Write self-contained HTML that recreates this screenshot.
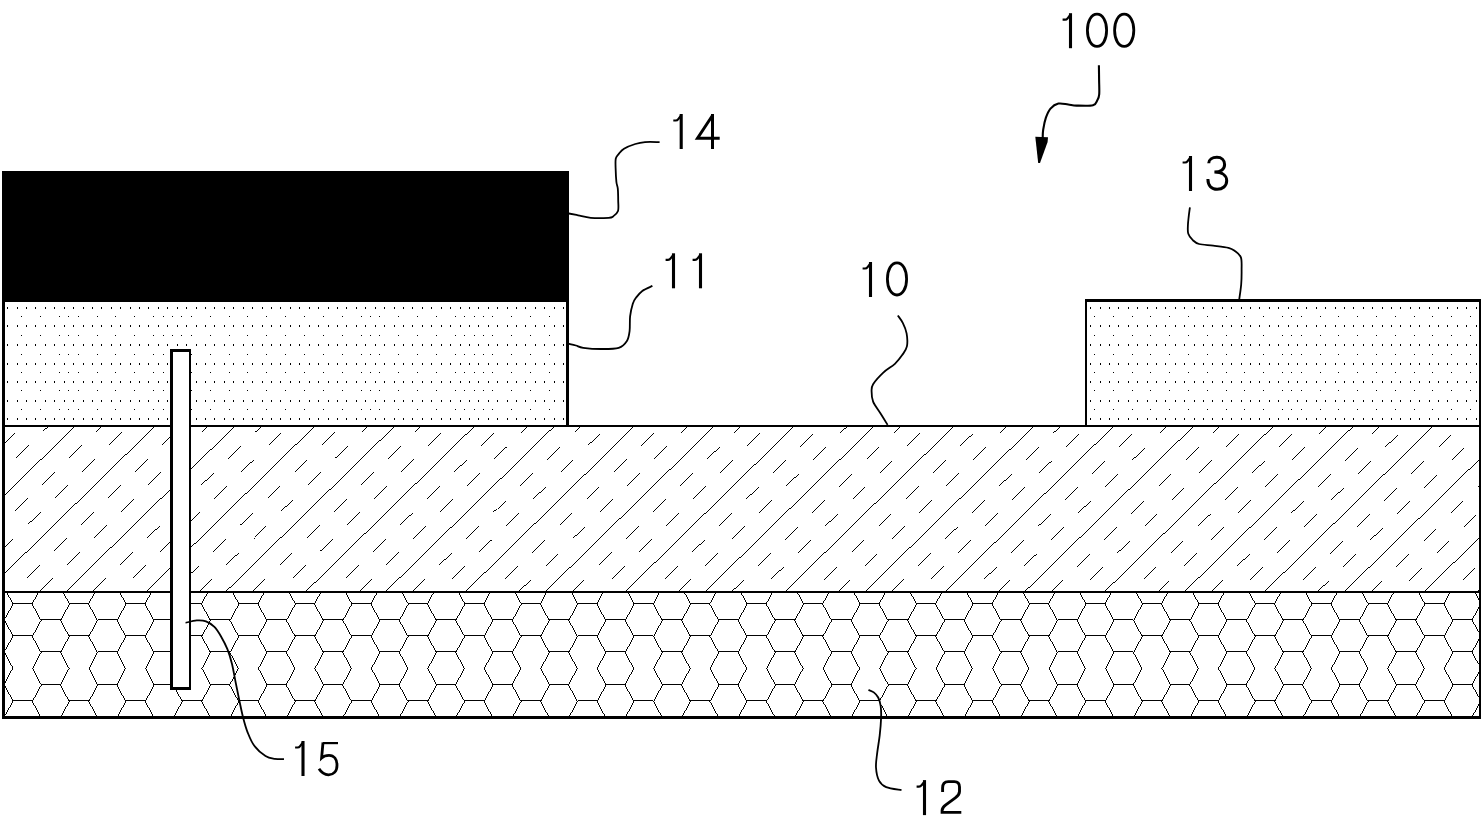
<!DOCTYPE html><html><head><meta charset="utf-8"><style>html,body{margin:0;padding:0;background:#fff;}svg{display:block;}text{font-family:"Liberation Sans",sans-serif;}</style></head><body><svg width="1482" height="824" viewBox="0 0 1482 824"><defs><clipPath id="c11"><rect x="5" y="302" width="561" height="123"/></clipPath><clipPath id="c13"><rect x="1087" y="302" width="392" height="123"/></clipPath><clipPath id="c10"><rect x="5" y="427" width="1474" height="164"/></clipPath><clipPath id="c12"><rect x="5" y="593" width="1474" height="123"/></clipPath></defs><rect width="1482" height="824" fill="#fff"/><path clip-path="url(#c11)" shape-rendering="crispEdges" fill="#000" d="M7 307h1v2h-1zM17 307h1v2h-1zM26 307h1v2h-1zM35 307h1v2h-1zM45 307h1v2h-1zM54 307h1v2h-1zM64 307h1v2h-1zM73 307h1v2h-1zM83 307h1v2h-1zM92 307h1v2h-1zM101 307h1v2h-1zM111 307h1v2h-1zM120 307h1v2h-1zM130 307h1v2h-1zM139 307h1v2h-1zM148 307h1v2h-1zM158 307h1v2h-1zM167 307h1v2h-1zM177 307h1v2h-1zM186 307h1v2h-1zM196 307h1v2h-1zM205 307h1v2h-1zM214 307h1v2h-1zM224 307h1v2h-1zM233 307h1v2h-1zM243 307h1v2h-1zM252 307h1v2h-1zM262 307h1v2h-1zM271 307h1v2h-1zM280 307h1v2h-1zM290 307h1v2h-1zM299 307h1v2h-1zM309 307h1v2h-1zM318 307h1v2h-1zM328 307h1v2h-1zM337 307h1v2h-1zM346 307h1v2h-1zM356 307h1v2h-1zM365 307h1v2h-1zM375 307h1v2h-1zM384 307h1v2h-1zM394 307h1v2h-1zM403 307h1v2h-1zM412 307h1v2h-1zM422 307h1v2h-1zM431 307h1v2h-1zM441 307h1v2h-1zM450 307h1v2h-1zM460 307h1v2h-1zM469 307h1v2h-1zM478 307h1v2h-1zM488 307h1v2h-1zM497 307h1v2h-1zM507 307h1v2h-1zM516 307h1v2h-1zM525 307h1v2h-1zM535 307h1v2h-1zM544 307h1v2h-1zM554 307h1v2h-1zM563 307h1v2h-1zM7 325h1v2h-1zM17 325h1v2h-1zM26 325h1v2h-1zM35 325h1v2h-1zM45 325h1v2h-1zM54 325h1v2h-1zM64 325h1v2h-1zM73 325h1v2h-1zM83 325h1v2h-1zM92 325h1v2h-1zM101 325h1v2h-1zM111 325h1v2h-1zM120 325h1v2h-1zM130 325h1v2h-1zM139 325h1v2h-1zM148 325h1v2h-1zM158 325h1v2h-1zM167 325h1v2h-1zM177 325h1v2h-1zM186 325h1v2h-1zM196 325h1v2h-1zM205 325h1v2h-1zM214 325h1v2h-1zM224 325h1v2h-1zM233 325h1v2h-1zM243 325h1v2h-1zM252 325h1v2h-1zM262 325h1v2h-1zM271 325h1v2h-1zM280 325h1v2h-1zM290 325h1v2h-1zM299 325h1v2h-1zM309 325h1v2h-1zM318 325h1v2h-1zM328 325h1v2h-1zM337 325h1v2h-1zM346 325h1v2h-1zM356 325h1v2h-1zM365 325h1v2h-1zM375 325h1v2h-1zM384 325h1v2h-1zM394 325h1v2h-1zM403 325h1v2h-1zM412 325h1v2h-1zM422 325h1v2h-1zM431 325h1v2h-1zM441 325h1v2h-1zM450 325h1v2h-1zM460 325h1v2h-1zM469 325h1v2h-1zM478 325h1v2h-1zM488 325h1v2h-1zM497 325h1v2h-1zM507 325h1v2h-1zM516 325h1v2h-1zM525 325h1v2h-1zM535 325h1v2h-1zM544 325h1v2h-1zM554 325h1v2h-1zM563 325h1v2h-1zM7 344h1v2h-1zM17 344h1v2h-1zM26 344h1v2h-1zM35 344h1v2h-1zM45 344h1v2h-1zM54 344h1v2h-1zM64 344h1v2h-1zM73 344h1v2h-1zM83 344h1v2h-1zM92 344h1v2h-1zM101 344h1v2h-1zM111 344h1v2h-1zM120 344h1v2h-1zM130 344h1v2h-1zM139 344h1v2h-1zM148 344h1v2h-1zM158 344h1v2h-1zM167 344h1v2h-1zM177 344h1v2h-1zM186 344h1v2h-1zM196 344h1v2h-1zM205 344h1v2h-1zM214 344h1v2h-1zM224 344h1v2h-1zM233 344h1v2h-1zM243 344h1v2h-1zM252 344h1v2h-1zM262 344h1v2h-1zM271 344h1v2h-1zM280 344h1v2h-1zM290 344h1v2h-1zM299 344h1v2h-1zM309 344h1v2h-1zM318 344h1v2h-1zM328 344h1v2h-1zM337 344h1v2h-1zM346 344h1v2h-1zM356 344h1v2h-1zM365 344h1v2h-1zM375 344h1v2h-1zM384 344h1v2h-1zM394 344h1v2h-1zM403 344h1v2h-1zM412 344h1v2h-1zM422 344h1v2h-1zM431 344h1v2h-1zM441 344h1v2h-1zM450 344h1v2h-1zM460 344h1v2h-1zM469 344h1v2h-1zM478 344h1v2h-1zM488 344h1v2h-1zM497 344h1v2h-1zM507 344h1v2h-1zM516 344h1v2h-1zM525 344h1v2h-1zM535 344h1v2h-1zM544 344h1v2h-1zM554 344h1v2h-1zM563 344h1v2h-1zM7 363h1v2h-1zM17 363h1v2h-1zM26 363h1v2h-1zM35 363h1v2h-1zM45 363h1v2h-1zM54 363h1v2h-1zM64 363h1v2h-1zM73 363h1v2h-1zM83 363h1v2h-1zM92 363h1v2h-1zM101 363h1v2h-1zM111 363h1v2h-1zM120 363h1v2h-1zM130 363h1v2h-1zM139 363h1v2h-1zM148 363h1v2h-1zM158 363h1v2h-1zM167 363h1v2h-1zM177 363h1v2h-1zM186 363h1v2h-1zM196 363h1v2h-1zM205 363h1v2h-1zM214 363h1v2h-1zM224 363h1v2h-1zM233 363h1v2h-1zM243 363h1v2h-1zM252 363h1v2h-1zM262 363h1v2h-1zM271 363h1v2h-1zM280 363h1v2h-1zM290 363h1v2h-1zM299 363h1v2h-1zM309 363h1v2h-1zM318 363h1v2h-1zM328 363h1v2h-1zM337 363h1v2h-1zM346 363h1v2h-1zM356 363h1v2h-1zM365 363h1v2h-1zM375 363h1v2h-1zM384 363h1v2h-1zM394 363h1v2h-1zM403 363h1v2h-1zM412 363h1v2h-1zM422 363h1v2h-1zM431 363h1v2h-1zM441 363h1v2h-1zM450 363h1v2h-1zM460 363h1v2h-1zM469 363h1v2h-1zM478 363h1v2h-1zM488 363h1v2h-1zM497 363h1v2h-1zM507 363h1v2h-1zM516 363h1v2h-1zM525 363h1v2h-1zM535 363h1v2h-1zM544 363h1v2h-1zM554 363h1v2h-1zM563 363h1v2h-1zM7 381h1v2h-1zM17 381h1v2h-1zM26 381h1v2h-1zM35 381h1v2h-1zM45 381h1v2h-1zM54 381h1v2h-1zM64 381h1v2h-1zM73 381h1v2h-1zM83 381h1v2h-1zM92 381h1v2h-1zM101 381h1v2h-1zM111 381h1v2h-1zM120 381h1v2h-1zM130 381h1v2h-1zM139 381h1v2h-1zM148 381h1v2h-1zM158 381h1v2h-1zM167 381h1v2h-1zM177 381h1v2h-1zM186 381h1v2h-1zM196 381h1v2h-1zM205 381h1v2h-1zM214 381h1v2h-1zM224 381h1v2h-1zM233 381h1v2h-1zM243 381h1v2h-1zM252 381h1v2h-1zM262 381h1v2h-1zM271 381h1v2h-1zM280 381h1v2h-1zM290 381h1v2h-1zM299 381h1v2h-1zM309 381h1v2h-1zM318 381h1v2h-1zM328 381h1v2h-1zM337 381h1v2h-1zM346 381h1v2h-1zM356 381h1v2h-1zM365 381h1v2h-1zM375 381h1v2h-1zM384 381h1v2h-1zM394 381h1v2h-1zM403 381h1v2h-1zM412 381h1v2h-1zM422 381h1v2h-1zM431 381h1v2h-1zM441 381h1v2h-1zM450 381h1v2h-1zM460 381h1v2h-1zM469 381h1v2h-1zM478 381h1v2h-1zM488 381h1v2h-1zM497 381h1v2h-1zM507 381h1v2h-1zM516 381h1v2h-1zM525 381h1v2h-1zM535 381h1v2h-1zM544 381h1v2h-1zM554 381h1v2h-1zM563 381h1v2h-1zM7 400h1v2h-1zM17 400h1v2h-1zM26 400h1v2h-1zM35 400h1v2h-1zM45 400h1v2h-1zM54 400h1v2h-1zM64 400h1v2h-1zM73 400h1v2h-1zM83 400h1v2h-1zM92 400h1v2h-1zM101 400h1v2h-1zM111 400h1v2h-1zM120 400h1v2h-1zM130 400h1v2h-1zM139 400h1v2h-1zM148 400h1v2h-1zM158 400h1v2h-1zM167 400h1v2h-1zM177 400h1v2h-1zM186 400h1v2h-1zM196 400h1v2h-1zM205 400h1v2h-1zM214 400h1v2h-1zM224 400h1v2h-1zM233 400h1v2h-1zM243 400h1v2h-1zM252 400h1v2h-1zM262 400h1v2h-1zM271 400h1v2h-1zM280 400h1v2h-1zM290 400h1v2h-1zM299 400h1v2h-1zM309 400h1v2h-1zM318 400h1v2h-1zM328 400h1v2h-1zM337 400h1v2h-1zM346 400h1v2h-1zM356 400h1v2h-1zM365 400h1v2h-1zM375 400h1v2h-1zM384 400h1v2h-1zM394 400h1v2h-1zM403 400h1v2h-1zM412 400h1v2h-1zM422 400h1v2h-1zM431 400h1v2h-1zM441 400h1v2h-1zM450 400h1v2h-1zM460 400h1v2h-1zM469 400h1v2h-1zM478 400h1v2h-1zM488 400h1v2h-1zM497 400h1v2h-1zM507 400h1v2h-1zM516 400h1v2h-1zM525 400h1v2h-1zM535 400h1v2h-1zM544 400h1v2h-1zM554 400h1v2h-1zM563 400h1v2h-1zM7 418h1v2h-1zM17 418h1v2h-1zM26 418h1v2h-1zM35 418h1v2h-1zM45 418h1v2h-1zM54 418h1v2h-1zM64 418h1v2h-1zM73 418h1v2h-1zM83 418h1v2h-1zM92 418h1v2h-1zM101 418h1v2h-1zM111 418h1v2h-1zM120 418h1v2h-1zM130 418h1v2h-1zM139 418h1v2h-1zM148 418h1v2h-1zM158 418h1v2h-1zM167 418h1v2h-1zM177 418h1v2h-1zM186 418h1v2h-1zM196 418h1v2h-1zM205 418h1v2h-1zM214 418h1v2h-1zM224 418h1v2h-1zM233 418h1v2h-1zM243 418h1v2h-1zM252 418h1v2h-1zM262 418h1v2h-1zM271 418h1v2h-1zM280 418h1v2h-1zM290 418h1v2h-1zM299 418h1v2h-1zM309 418h1v2h-1zM318 418h1v2h-1zM328 418h1v2h-1zM337 418h1v2h-1zM346 418h1v2h-1zM356 418h1v2h-1zM365 418h1v2h-1zM375 418h1v2h-1zM384 418h1v2h-1zM394 418h1v2h-1zM403 418h1v2h-1zM412 418h1v2h-1zM422 418h1v2h-1zM431 418h1v2h-1zM441 418h1v2h-1zM450 418h1v2h-1zM460 418h1v2h-1zM469 418h1v2h-1zM478 418h1v2h-1zM488 418h1v2h-1zM497 418h1v2h-1zM507 418h1v2h-1zM516 418h1v2h-1zM525 418h1v2h-1zM535 418h1v2h-1zM544 418h1v2h-1zM554 418h1v2h-1zM563 418h1v2h-1zM21 316h1v1h-1zM40 316h1v1h-1zM59 316h1v1h-1zM68 316h1v1h-1zM78 316h1v1h-1zM97 316h1v1h-1zM115 316h1v1h-1zM134 316h1v1h-1zM153 316h1v1h-1zM163 316h1v1h-1zM172 316h1v1h-1zM181 316h1v1h-1zM191 316h1v1h-1zM210 316h1v1h-1zM229 316h1v1h-1zM247 316h1v1h-1zM266 316h1v1h-1zM285 316h1v1h-1zM304 316h1v1h-1zM323 316h1v1h-1zM342 316h1v1h-1zM361 316h1v1h-1zM370 316h1v1h-1zM379 316h1v1h-1zM398 316h1v1h-1zM417 316h1v1h-1zM436 316h1v1h-1zM455 316h1v1h-1zM464 316h1v1h-1zM474 316h1v1h-1zM483 316h1v1h-1zM492 316h1v1h-1zM511 316h1v1h-1zM530 316h1v1h-1zM549 316h1v1h-1zM21 335h1v1h-1zM40 335h1v1h-1zM59 335h1v1h-1zM68 335h1v1h-1zM78 335h1v1h-1zM97 335h1v1h-1zM115 335h1v1h-1zM134 335h1v1h-1zM153 335h1v1h-1zM163 335h1v1h-1zM172 335h1v1h-1zM181 335h1v1h-1zM191 335h1v1h-1zM210 335h1v1h-1zM229 335h1v1h-1zM247 335h1v1h-1zM266 335h1v1h-1zM285 335h1v1h-1zM304 335h1v1h-1zM323 335h1v1h-1zM342 335h1v1h-1zM361 335h1v1h-1zM370 335h1v1h-1zM379 335h1v1h-1zM398 335h1v1h-1zM417 335h1v1h-1zM436 335h1v1h-1zM455 335h1v1h-1zM464 335h1v1h-1zM474 335h1v1h-1zM483 335h1v1h-1zM492 335h1v1h-1zM511 335h1v1h-1zM530 335h1v1h-1zM549 335h1v1h-1zM21 354h1v1h-1zM40 354h1v1h-1zM59 354h1v1h-1zM68 354h1v1h-1zM78 354h1v1h-1zM97 354h1v1h-1zM115 354h1v1h-1zM134 354h1v1h-1zM153 354h1v1h-1zM163 354h1v1h-1zM172 354h1v1h-1zM181 354h1v1h-1zM191 354h1v1h-1zM210 354h1v1h-1zM229 354h1v1h-1zM247 354h1v1h-1zM266 354h1v1h-1zM285 354h1v1h-1zM304 354h1v1h-1zM323 354h1v1h-1zM342 354h1v1h-1zM361 354h1v1h-1zM370 354h1v1h-1zM379 354h1v1h-1zM398 354h1v1h-1zM417 354h1v1h-1zM436 354h1v1h-1zM455 354h1v1h-1zM464 354h1v1h-1zM474 354h1v1h-1zM483 354h1v1h-1zM492 354h1v1h-1zM511 354h1v1h-1zM530 354h1v1h-1zM549 354h1v1h-1zM21 372h1v1h-1zM40 372h1v1h-1zM59 372h1v1h-1zM68 372h1v1h-1zM78 372h1v1h-1zM97 372h1v1h-1zM115 372h1v1h-1zM134 372h1v1h-1zM153 372h1v1h-1zM163 372h1v1h-1zM172 372h1v1h-1zM181 372h1v1h-1zM191 372h1v1h-1zM210 372h1v1h-1zM229 372h1v1h-1zM247 372h1v1h-1zM266 372h1v1h-1zM285 372h1v1h-1zM304 372h1v1h-1zM323 372h1v1h-1zM342 372h1v1h-1zM361 372h1v1h-1zM370 372h1v1h-1zM379 372h1v1h-1zM398 372h1v1h-1zM417 372h1v1h-1zM436 372h1v1h-1zM455 372h1v1h-1zM464 372h1v1h-1zM474 372h1v1h-1zM483 372h1v1h-1zM492 372h1v1h-1zM511 372h1v1h-1zM530 372h1v1h-1zM549 372h1v1h-1zM21 390h1v1h-1zM40 390h1v1h-1zM59 390h1v1h-1zM68 390h1v1h-1zM78 390h1v1h-1zM97 390h1v1h-1zM115 390h1v1h-1zM134 390h1v1h-1zM153 390h1v1h-1zM163 390h1v1h-1zM172 390h1v1h-1zM181 390h1v1h-1zM191 390h1v1h-1zM210 390h1v1h-1zM229 390h1v1h-1zM247 390h1v1h-1zM266 390h1v1h-1zM285 390h1v1h-1zM304 390h1v1h-1zM323 390h1v1h-1zM342 390h1v1h-1zM361 390h1v1h-1zM370 390h1v1h-1zM379 390h1v1h-1zM398 390h1v1h-1zM417 390h1v1h-1zM436 390h1v1h-1zM455 390h1v1h-1zM464 390h1v1h-1zM474 390h1v1h-1zM483 390h1v1h-1zM492 390h1v1h-1zM511 390h1v1h-1zM530 390h1v1h-1zM549 390h1v1h-1zM21 409h1v1h-1zM40 409h1v1h-1zM59 409h1v1h-1zM68 409h1v1h-1zM78 409h1v1h-1zM97 409h1v1h-1zM115 409h1v1h-1zM134 409h1v1h-1zM153 409h1v1h-1zM163 409h1v1h-1zM172 409h1v1h-1zM181 409h1v1h-1zM191 409h1v1h-1zM210 409h1v1h-1zM229 409h1v1h-1zM247 409h1v1h-1zM266 409h1v1h-1zM285 409h1v1h-1zM304 409h1v1h-1zM323 409h1v1h-1zM342 409h1v1h-1zM361 409h1v1h-1zM370 409h1v1h-1zM379 409h1v1h-1zM398 409h1v1h-1zM417 409h1v1h-1zM436 409h1v1h-1zM455 409h1v1h-1zM464 409h1v1h-1zM474 409h1v1h-1zM483 409h1v1h-1zM492 409h1v1h-1zM511 409h1v1h-1zM530 409h1v1h-1zM549 409h1v1h-1z"/><path clip-path="url(#c13)" shape-rendering="crispEdges" fill="#000" d="M1090 307h1v2h-1zM1100 307h1v2h-1zM1109 307h1v2h-1zM1118 307h1v2h-1zM1128 307h1v2h-1zM1137 307h1v2h-1zM1147 307h1v2h-1zM1156 307h1v2h-1zM1165 307h1v2h-1zM1175 307h1v2h-1zM1184 307h1v2h-1zM1194 307h1v2h-1zM1203 307h1v2h-1zM1212 307h1v2h-1zM1222 307h1v2h-1zM1231 307h1v2h-1zM1241 307h1v2h-1zM1250 307h1v2h-1zM1259 307h1v2h-1zM1269 307h1v2h-1zM1278 307h1v2h-1zM1288 307h1v2h-1zM1297 307h1v2h-1zM1306 307h1v2h-1zM1316 307h1v2h-1zM1325 307h1v2h-1zM1335 307h1v2h-1zM1344 307h1v2h-1zM1353 307h1v2h-1zM1363 307h1v2h-1zM1372 307h1v2h-1zM1382 307h1v2h-1zM1391 307h1v2h-1zM1400 307h1v2h-1zM1410 307h1v2h-1zM1419 307h1v2h-1zM1429 307h1v2h-1zM1438 307h1v2h-1zM1447 307h1v2h-1zM1457 307h1v2h-1zM1466 307h1v2h-1zM1476 307h1v2h-1zM1090 325h1v2h-1zM1100 325h1v2h-1zM1109 325h1v2h-1zM1118 325h1v2h-1zM1128 325h1v2h-1zM1137 325h1v2h-1zM1147 325h1v2h-1zM1156 325h1v2h-1zM1165 325h1v2h-1zM1175 325h1v2h-1zM1184 325h1v2h-1zM1194 325h1v2h-1zM1203 325h1v2h-1zM1212 325h1v2h-1zM1222 325h1v2h-1zM1231 325h1v2h-1zM1241 325h1v2h-1zM1250 325h1v2h-1zM1259 325h1v2h-1zM1269 325h1v2h-1zM1278 325h1v2h-1zM1288 325h1v2h-1zM1297 325h1v2h-1zM1306 325h1v2h-1zM1316 325h1v2h-1zM1325 325h1v2h-1zM1335 325h1v2h-1zM1344 325h1v2h-1zM1353 325h1v2h-1zM1363 325h1v2h-1zM1372 325h1v2h-1zM1382 325h1v2h-1zM1391 325h1v2h-1zM1400 325h1v2h-1zM1410 325h1v2h-1zM1419 325h1v2h-1zM1429 325h1v2h-1zM1438 325h1v2h-1zM1447 325h1v2h-1zM1457 325h1v2h-1zM1466 325h1v2h-1zM1476 325h1v2h-1zM1090 344h1v2h-1zM1100 344h1v2h-1zM1109 344h1v2h-1zM1118 344h1v2h-1zM1128 344h1v2h-1zM1137 344h1v2h-1zM1147 344h1v2h-1zM1156 344h1v2h-1zM1165 344h1v2h-1zM1175 344h1v2h-1zM1184 344h1v2h-1zM1194 344h1v2h-1zM1203 344h1v2h-1zM1212 344h1v2h-1zM1222 344h1v2h-1zM1231 344h1v2h-1zM1241 344h1v2h-1zM1250 344h1v2h-1zM1259 344h1v2h-1zM1269 344h1v2h-1zM1278 344h1v2h-1zM1288 344h1v2h-1zM1297 344h1v2h-1zM1306 344h1v2h-1zM1316 344h1v2h-1zM1325 344h1v2h-1zM1335 344h1v2h-1zM1344 344h1v2h-1zM1353 344h1v2h-1zM1363 344h1v2h-1zM1372 344h1v2h-1zM1382 344h1v2h-1zM1391 344h1v2h-1zM1400 344h1v2h-1zM1410 344h1v2h-1zM1419 344h1v2h-1zM1429 344h1v2h-1zM1438 344h1v2h-1zM1447 344h1v2h-1zM1457 344h1v2h-1zM1466 344h1v2h-1zM1476 344h1v2h-1zM1090 363h1v2h-1zM1100 363h1v2h-1zM1109 363h1v2h-1zM1118 363h1v2h-1zM1128 363h1v2h-1zM1137 363h1v2h-1zM1147 363h1v2h-1zM1156 363h1v2h-1zM1165 363h1v2h-1zM1175 363h1v2h-1zM1184 363h1v2h-1zM1194 363h1v2h-1zM1203 363h1v2h-1zM1212 363h1v2h-1zM1222 363h1v2h-1zM1231 363h1v2h-1zM1241 363h1v2h-1zM1250 363h1v2h-1zM1259 363h1v2h-1zM1269 363h1v2h-1zM1278 363h1v2h-1zM1288 363h1v2h-1zM1297 363h1v2h-1zM1306 363h1v2h-1zM1316 363h1v2h-1zM1325 363h1v2h-1zM1335 363h1v2h-1zM1344 363h1v2h-1zM1353 363h1v2h-1zM1363 363h1v2h-1zM1372 363h1v2h-1zM1382 363h1v2h-1zM1391 363h1v2h-1zM1400 363h1v2h-1zM1410 363h1v2h-1zM1419 363h1v2h-1zM1429 363h1v2h-1zM1438 363h1v2h-1zM1447 363h1v2h-1zM1457 363h1v2h-1zM1466 363h1v2h-1zM1476 363h1v2h-1zM1090 381h1v2h-1zM1100 381h1v2h-1zM1109 381h1v2h-1zM1118 381h1v2h-1zM1128 381h1v2h-1zM1137 381h1v2h-1zM1147 381h1v2h-1zM1156 381h1v2h-1zM1165 381h1v2h-1zM1175 381h1v2h-1zM1184 381h1v2h-1zM1194 381h1v2h-1zM1203 381h1v2h-1zM1212 381h1v2h-1zM1222 381h1v2h-1zM1231 381h1v2h-1zM1241 381h1v2h-1zM1250 381h1v2h-1zM1259 381h1v2h-1zM1269 381h1v2h-1zM1278 381h1v2h-1zM1288 381h1v2h-1zM1297 381h1v2h-1zM1306 381h1v2h-1zM1316 381h1v2h-1zM1325 381h1v2h-1zM1335 381h1v2h-1zM1344 381h1v2h-1zM1353 381h1v2h-1zM1363 381h1v2h-1zM1372 381h1v2h-1zM1382 381h1v2h-1zM1391 381h1v2h-1zM1400 381h1v2h-1zM1410 381h1v2h-1zM1419 381h1v2h-1zM1429 381h1v2h-1zM1438 381h1v2h-1zM1447 381h1v2h-1zM1457 381h1v2h-1zM1466 381h1v2h-1zM1476 381h1v2h-1zM1090 400h1v2h-1zM1100 400h1v2h-1zM1109 400h1v2h-1zM1118 400h1v2h-1zM1128 400h1v2h-1zM1137 400h1v2h-1zM1147 400h1v2h-1zM1156 400h1v2h-1zM1165 400h1v2h-1zM1175 400h1v2h-1zM1184 400h1v2h-1zM1194 400h1v2h-1zM1203 400h1v2h-1zM1212 400h1v2h-1zM1222 400h1v2h-1zM1231 400h1v2h-1zM1241 400h1v2h-1zM1250 400h1v2h-1zM1259 400h1v2h-1zM1269 400h1v2h-1zM1278 400h1v2h-1zM1288 400h1v2h-1zM1297 400h1v2h-1zM1306 400h1v2h-1zM1316 400h1v2h-1zM1325 400h1v2h-1zM1335 400h1v2h-1zM1344 400h1v2h-1zM1353 400h1v2h-1zM1363 400h1v2h-1zM1372 400h1v2h-1zM1382 400h1v2h-1zM1391 400h1v2h-1zM1400 400h1v2h-1zM1410 400h1v2h-1zM1419 400h1v2h-1zM1429 400h1v2h-1zM1438 400h1v2h-1zM1447 400h1v2h-1zM1457 400h1v2h-1zM1466 400h1v2h-1zM1476 400h1v2h-1zM1090 418h1v2h-1zM1100 418h1v2h-1zM1109 418h1v2h-1zM1118 418h1v2h-1zM1128 418h1v2h-1zM1137 418h1v2h-1zM1147 418h1v2h-1zM1156 418h1v2h-1zM1165 418h1v2h-1zM1175 418h1v2h-1zM1184 418h1v2h-1zM1194 418h1v2h-1zM1203 418h1v2h-1zM1212 418h1v2h-1zM1222 418h1v2h-1zM1231 418h1v2h-1zM1241 418h1v2h-1zM1250 418h1v2h-1zM1259 418h1v2h-1zM1269 418h1v2h-1zM1278 418h1v2h-1zM1288 418h1v2h-1zM1297 418h1v2h-1zM1306 418h1v2h-1zM1316 418h1v2h-1zM1325 418h1v2h-1zM1335 418h1v2h-1zM1344 418h1v2h-1zM1353 418h1v2h-1zM1363 418h1v2h-1zM1372 418h1v2h-1zM1382 418h1v2h-1zM1391 418h1v2h-1zM1400 418h1v2h-1zM1410 418h1v2h-1zM1419 418h1v2h-1zM1429 418h1v2h-1zM1438 418h1v2h-1zM1447 418h1v2h-1zM1457 418h1v2h-1zM1466 418h1v2h-1zM1476 418h1v2h-1zM1094 316h1v1h-1zM1113 316h1v1h-1zM1132 316h1v1h-1zM1150 316h1v1h-1zM1169 316h1v1h-1zM1188 316h1v1h-1zM1207 316h1v1h-1zM1226 316h1v1h-1zM1244 316h1v1h-1zM1263 316h1v1h-1zM1282 316h1v1h-1zM1291 316h1v1h-1zM1301 316h1v1h-1zM1320 316h1v1h-1zM1338 316h1v1h-1zM1357 316h1v1h-1zM1376 316h1v1h-1zM1395 316h1v1h-1zM1414 316h1v1h-1zM1432 316h1v1h-1zM1451 316h1v1h-1zM1470 316h1v1h-1zM1094 335h1v1h-1zM1113 335h1v1h-1zM1132 335h1v1h-1zM1150 335h1v1h-1zM1169 335h1v1h-1zM1188 335h1v1h-1zM1207 335h1v1h-1zM1226 335h1v1h-1zM1244 335h1v1h-1zM1263 335h1v1h-1zM1282 335h1v1h-1zM1291 335h1v1h-1zM1301 335h1v1h-1zM1320 335h1v1h-1zM1338 335h1v1h-1zM1357 335h1v1h-1zM1376 335h1v1h-1zM1395 335h1v1h-1zM1414 335h1v1h-1zM1432 335h1v1h-1zM1451 335h1v1h-1zM1470 335h1v1h-1zM1094 354h1v1h-1zM1113 354h1v1h-1zM1132 354h1v1h-1zM1150 354h1v1h-1zM1169 354h1v1h-1zM1188 354h1v1h-1zM1207 354h1v1h-1zM1226 354h1v1h-1zM1244 354h1v1h-1zM1263 354h1v1h-1zM1282 354h1v1h-1zM1291 354h1v1h-1zM1301 354h1v1h-1zM1320 354h1v1h-1zM1338 354h1v1h-1zM1357 354h1v1h-1zM1376 354h1v1h-1zM1395 354h1v1h-1zM1414 354h1v1h-1zM1432 354h1v1h-1zM1451 354h1v1h-1zM1470 354h1v1h-1zM1094 372h1v1h-1zM1113 372h1v1h-1zM1132 372h1v1h-1zM1150 372h1v1h-1zM1169 372h1v1h-1zM1188 372h1v1h-1zM1207 372h1v1h-1zM1226 372h1v1h-1zM1244 372h1v1h-1zM1263 372h1v1h-1zM1282 372h1v1h-1zM1291 372h1v1h-1zM1301 372h1v1h-1zM1320 372h1v1h-1zM1338 372h1v1h-1zM1357 372h1v1h-1zM1376 372h1v1h-1zM1395 372h1v1h-1zM1414 372h1v1h-1zM1432 372h1v1h-1zM1451 372h1v1h-1zM1470 372h1v1h-1zM1094 390h1v1h-1zM1113 390h1v1h-1zM1132 390h1v1h-1zM1150 390h1v1h-1zM1169 390h1v1h-1zM1188 390h1v1h-1zM1207 390h1v1h-1zM1226 390h1v1h-1zM1244 390h1v1h-1zM1263 390h1v1h-1zM1282 390h1v1h-1zM1291 390h1v1h-1zM1301 390h1v1h-1zM1320 390h1v1h-1zM1338 390h1v1h-1zM1357 390h1v1h-1zM1376 390h1v1h-1zM1395 390h1v1h-1zM1414 390h1v1h-1zM1432 390h1v1h-1zM1451 390h1v1h-1zM1470 390h1v1h-1zM1094 409h1v1h-1zM1113 409h1v1h-1zM1132 409h1v1h-1zM1150 409h1v1h-1zM1169 409h1v1h-1zM1188 409h1v1h-1zM1207 409h1v1h-1zM1226 409h1v1h-1zM1244 409h1v1h-1zM1263 409h1v1h-1zM1282 409h1v1h-1zM1291 409h1v1h-1zM1301 409h1v1h-1zM1320 409h1v1h-1zM1338 409h1v1h-1zM1357 409h1v1h-1zM1376 409h1v1h-1zM1395 409h1v1h-1zM1414 409h1v1h-1zM1432 409h1v1h-1zM1451 409h1v1h-1zM1470 409h1v1h-1z"/><path clip-path="url(#c10)" fill="none" stroke="#000" stroke-width="0.99" shape-rendering="crispEdges" d="M-175.11 593L-3.69 425M2.62 444.92L15.48 432.32M-11.42 484.78L1.44 472.18M15.67 458.23L28.52 445.64M42.75 431.69L55.61 419.09M-95.21 593L76.21 425M-12.41 537.95L0.45 525.35M14.68 511.41L27.53 498.81M41.76 484.86L54.62 472.26M68.85 458.32L81.71 445.72M95.94 431.77L108.79 419.17M0.64 551.27L13.49 538.67M27.73 524.72L40.58 512.12M54.81 498.18L67.67 485.58M81.9 471.63L94.75 459.03M108.98 445.09L121.84 432.49M-15.31 593L156.11 425M-0.35 604.44L12.5 591.84M26.73 577.89L39.59 565.29M53.82 551.35L66.68 538.75M80.91 524.8L93.76 512.21M107.99 498.26L120.85 485.66M135.08 471.71L147.94 459.12M162.17 445.17L175.02 432.57M39.78 591.21L52.64 578.61M66.87 564.66L79.72 552.06M93.95 538.12L106.81 525.52M121.04 511.57L133.9 498.97M148.13 485.03L160.98 472.43M175.21 458.48L188.07 445.89M202.3 431.94L215.16 419.34M64.59 593L236.01 425M92.96 591.29L105.82 578.69M120.05 564.75L132.91 552.15M147.14 538.2L159.99 525.6M174.22 511.66L187.08 499.06M201.31 485.11L214.16 472.51M228.39 458.57L241.25 445.97M255.48 432.02L268.34 419.42M106.01 604.6L118.87 592.01M133.1 578.06L145.95 565.46M160.18 551.52L173.04 538.92M187.27 524.97L200.13 512.37M214.36 498.43L227.21 485.83M241.44 471.88L254.3 459.28M268.53 445.34L281.38 432.74M144.49 593L315.91 425M159.19 604.69L172.05 592.09M186.28 578.14L199.13 565.54M213.37 551.6L226.22 539M240.45 525.05L253.31 512.46M267.54 498.51L280.39 485.91M294.62 471.96L307.48 459.37M321.71 445.42L334.57 432.82M199.33 591.46L212.18 578.86M226.41 564.91L239.27 552.31M253.5 538.37L266.36 525.77M280.59 511.82L293.44 499.22M307.67 485.28L320.53 472.68M334.76 458.73L347.61 446.14M361.84 432.19L374.7 419.59M224.39 593L395.81 425M252.51 591.54L265.36 578.94M279.59 565L292.45 552.4M306.68 538.45L319.54 525.85M333.77 511.91L346.62 499.31M360.85 485.36L373.71 472.76M387.94 458.82L400.8 446.22M415.03 432.27L427.88 419.67M265.56 604.85L278.41 592.26M292.64 578.31L305.5 565.71M319.73 551.77L332.58 539.17M346.81 525.22L359.67 512.62M373.9 498.68L386.76 486.08M400.99 472.13L413.84 459.53M428.07 445.59L440.93 432.99M304.29 593L475.71 425M318.74 604.94L331.59 592.34M345.82 578.39L358.68 565.79M372.91 551.85L385.77 539.25M400 525.3L412.85 512.71M427.08 498.76L439.94 486.16M454.17 472.21L467.03 459.62M481.26 445.67L494.11 433.07M358.87 591.71L371.73 579.11M385.96 565.16L398.81 552.56M413.04 538.62L425.9 526.02M440.13 512.07L452.99 499.47M467.22 485.53L480.07 472.93M494.3 458.98L507.16 446.39M521.39 432.44L534.25 419.84M384.19 593L555.61 425M412.05 591.79L424.91 579.19M439.14 565.25L452 552.65M466.23 538.7L479.08 526.1M493.31 512.16L506.17 499.56M520.4 485.61L533.25 473.01M547.48 459.07L560.34 446.47M574.57 432.52L587.43 419.92M425.1 605.1L437.96 592.51M452.19 578.56L465.04 565.96M479.27 552.02L492.13 539.42M506.36 525.47L519.22 512.87M533.45 498.93L546.3 486.33M560.53 472.38L573.39 459.78M587.62 445.84L600.47 433.24M464.09 593L635.51 425M478.28 605.19L491.14 592.59M505.37 578.64L518.22 566.04M532.46 552.1L545.31 539.5M559.54 525.55L572.4 512.96M586.63 499.01L599.48 486.41M613.71 472.46L626.57 459.87M640.8 445.92L653.66 433.32M518.42 591.96L531.27 579.36M545.5 565.41L558.36 552.81M572.59 538.87L585.45 526.27M599.68 512.32L612.53 499.72M626.76 485.78L639.62 473.18M653.85 459.23L666.7 446.64M680.93 432.69L693.79 420.09M543.99 593L715.41 425M571.6 592.04L584.45 579.44M598.68 565.5L611.54 552.9M625.77 538.95L638.63 526.35M652.86 512.41L665.71 499.81M679.94 485.86L692.8 473.26M707.03 459.32L719.89 446.72M734.12 432.77L746.97 420.17M584.65 605.35L597.5 592.76M611.73 578.81L624.59 566.21M638.82 552.27L651.67 539.67M665.9 525.72L678.76 513.12M692.99 499.18L705.85 486.58M720.08 472.63L732.93 460.03M747.16 446.09L760.02 433.49M623.89 593L795.31 425M637.83 605.44L650.68 592.84M664.91 578.89L677.77 566.29M692 552.35L704.86 539.75M719.09 525.8L731.94 513.21M746.17 499.26L759.03 486.66M773.26 472.71L786.11 460.12M800.35 446.17L813.2 433.57M677.96 592.21L690.82 579.61M705.05 565.66L717.9 553.06M732.13 539.12L744.99 526.52M759.22 512.57L772.08 499.97M786.31 486.03L799.16 473.43M813.39 459.48L826.25 446.89M840.48 432.94L853.34 420.34M703.79 593L875.21 425M731.14 592.29L744 579.69M758.23 565.75L771.09 553.15M785.32 539.2L798.17 526.6M812.4 512.66L825.26 500.06M839.49 486.11L852.34 473.51M866.57 459.57L879.43 446.97M893.66 433.02L906.52 420.42M744.19 605.6L757.05 593.01M771.28 579.06L784.13 566.46M798.36 552.52L811.22 539.92M825.45 525.97L838.31 513.37M852.54 499.43L865.39 486.83M879.62 472.88L892.48 460.28M906.71 446.34L919.56 433.74M783.69 593L955.11 425M797.37 605.69L810.23 593.09M824.46 579.14L837.31 566.54M851.55 552.6L864.4 540M878.63 526.05L891.49 513.46M905.72 499.51L918.57 486.91M932.8 472.96L945.66 460.37M959.89 446.42L972.75 433.82M837.51 592.46L850.36 579.86M864.59 565.91L877.45 553.31M891.68 539.37L904.53 526.77M918.77 512.82L931.62 500.22M945.85 486.28L958.71 473.68M972.94 459.73L985.79 447.14M1000.02 433.19L1012.88 420.59M863.59 593L1035.01 425M890.69 592.54L903.54 579.94M917.77 566L930.63 553.4M944.86 539.45L957.72 526.85M971.95 512.91L984.8 500.31M999.03 486.36L1011.89 473.76M1026.12 459.82L1038.98 447.22M1053.21 433.27L1066.06 420.67M903.74 605.85L916.59 593.26M930.82 579.31L943.68 566.71M957.91 552.77L970.76 540.17M984.99 526.22L997.85 513.62M1012.08 499.68L1024.94 487.08M1039.17 473.13L1052.02 460.53M1066.25 446.59L1079.11 433.99M943.49 593L1114.91 425M956.92 605.94L969.77 593.34M984 579.39L996.86 566.79M1011.09 552.85L1023.95 540.25M1038.18 526.3L1051.03 513.71M1065.26 499.76L1078.12 487.16M1092.35 473.21L1105.2 460.62M1119.44 446.67L1132.29 434.07M997.05 592.71L1009.91 580.11M1024.14 566.16L1036.99 553.56M1051.22 539.62L1064.08 527.02M1078.31 513.07L1091.17 500.47M1105.4 486.53L1118.25 473.93M1132.48 459.98L1145.34 447.39M1159.57 433.44L1172.43 420.84M1023.39 593L1194.81 425M1050.23 592.79L1063.09 580.19M1077.32 566.25L1090.18 553.65M1104.41 539.7L1117.26 527.1M1131.49 513.16L1144.35 500.56M1158.58 486.61L1171.43 474.01M1185.66 460.07L1198.52 447.47M1212.75 433.52L1225.61 420.92M1063.28 606.1L1076.14 593.51M1090.37 579.56L1103.22 566.96M1117.45 553.01L1130.31 540.42M1144.54 526.47L1157.4 513.87M1171.63 499.93L1184.48 487.33M1198.71 473.38L1211.57 460.78M1225.8 446.84L1238.65 434.24M1103.29 593L1274.71 425M1116.46 606.19L1129.32 593.59M1143.55 579.64L1156.4 567.04M1170.64 553.1L1183.49 540.5M1197.72 526.55L1210.58 513.96M1224.81 500.01L1237.66 487.41M1251.89 473.46L1264.75 460.87M1278.98 446.92L1291.84 434.32M1156.6 592.96L1169.45 580.36M1183.68 566.41L1196.54 553.81M1210.77 539.87L1223.62 527.27M1237.86 513.32L1250.71 500.72M1264.94 486.78L1277.8 474.18M1292.03 460.23L1304.88 447.64M1319.11 433.69L1331.97 421.09M1183.19 593L1354.61 425M1209.78 593.04L1222.63 580.44M1236.86 566.5L1249.72 553.9M1263.95 539.95L1276.81 527.35M1291.04 513.41L1303.89 500.81M1318.12 486.86L1330.98 474.26M1345.21 460.32L1358.07 447.72M1372.3 433.77L1385.15 421.17M1222.83 606.35L1235.68 593.76M1249.91 579.81L1262.77 567.21M1277 553.26L1289.85 540.67M1304.08 526.72L1316.94 514.12M1331.17 500.18L1344.03 487.58M1358.26 473.63L1371.11 461.03M1385.34 447.09L1398.2 434.49M1263.09 593L1434.51 425M1276.01 606.44L1288.86 593.84M1303.09 579.89L1315.95 567.29M1330.18 553.35L1343.04 540.75M1357.27 526.8L1370.12 514.2M1384.35 500.26L1397.21 487.66M1411.44 473.71L1424.29 461.12M1438.53 447.17L1451.38 434.57M1316.14 593.21L1329 580.61M1343.23 566.66L1356.08 554.06M1370.31 540.12L1383.17 527.52M1397.4 513.57L1410.26 500.97M1424.49 487.03L1437.34 474.43M1451.57 460.48L1464.43 447.89M1478.66 433.94L1491.52 421.34M1342.99 593L1514.41 425M1369.32 593.29L1382.18 580.69M1396.41 566.75L1409.27 554.15M1423.5 540.2L1436.35 527.6M1450.58 513.66L1463.44 501.06M1477.67 487.11L1490.52 474.51M1382.37 606.6L1395.23 594.01M1409.46 580.06L1422.31 567.46M1436.54 553.51L1449.4 540.92M1463.63 526.97L1476.49 514.37M1490.72 500.43L1503.57 487.83M1422.89 593L1594.31 425M1435.55 606.69L1448.41 594.09M1462.64 580.14L1475.49 567.54M1489.72 553.6L1502.58 541M1475.69 593.46L1488.54 580.86M1502.79 593L1674.21 425M1582.69 593L1754.11 425M1662.59 593L1834.01 425"/><path clip-path="url(#c12)" fill="none" stroke="#000" stroke-width="0.99" shape-rendering="crispEdges" d="M-71.91 587.5H-52.41M-71.91 587.5L-80.64 603.5M-52.41 587.5L-43.67 603.5M-15.44 587.5H4.06M-15.44 587.5L-24.17 603.5M4.06 587.5L12.8 603.5M41.03 587.5H60.53M41.03 587.5L32.3 603.5M60.53 587.5L69.27 603.5M97.5 587.5H117M97.5 587.5L88.77 603.5M117 587.5L125.74 603.5M153.97 587.5H173.47M153.97 587.5L145.24 603.5M173.47 587.5L182.21 603.5M210.44 587.5H229.94M210.44 587.5L201.71 603.5M229.94 587.5L238.68 603.5M266.91 587.5H286.41M266.91 587.5L258.18 603.5M286.41 587.5L295.15 603.5M323.38 587.5H342.88M323.38 587.5L314.65 603.5M342.88 587.5L351.62 603.5M379.86 587.5H399.36M379.86 587.5L371.12 603.5M399.36 587.5L408.09 603.5M436.32 587.5H455.82M436.32 587.5L427.59 603.5M455.82 587.5L464.56 603.5M492.79 587.5H512.29M492.79 587.5L484.06 603.5M512.29 587.5L521.03 603.5M549.26 587.5H568.76M549.26 587.5L540.53 603.5M568.76 587.5L577.5 603.5M605.74 587.5H625.24M605.74 587.5L597 603.5M625.24 587.5L633.97 603.5M662.2 587.5H681.7M662.2 587.5L653.47 603.5M681.7 587.5L690.44 603.5M718.67 587.5H738.17M718.67 587.5L709.94 603.5M738.17 587.5L746.91 603.5M775.14 587.5H794.64M775.14 587.5L766.41 603.5M794.64 587.5L803.38 603.5M831.61 587.5H851.11M831.61 587.5L822.88 603.5M851.11 587.5L859.85 603.5M888.08 587.5H907.58M888.08 587.5L879.35 603.5M907.58 587.5L916.32 603.5M944.55 587.5H964.05M944.55 587.5L935.82 603.5M964.05 587.5L972.79 603.5M1001.02 587.5H1020.52M1001.02 587.5L992.29 603.5M1020.52 587.5L1029.26 603.5M1057.5 587.5H1077M1057.5 587.5L1048.76 603.5M1077 587.5L1085.73 603.5M1113.97 587.5H1133.47M1113.97 587.5L1105.23 603.5M1133.47 587.5L1142.2 603.5M1170.44 587.5H1189.94M1170.44 587.5L1161.7 603.5M1189.94 587.5L1198.67 603.5M1226.9 587.5H1246.4M1226.9 587.5L1218.17 603.5M1246.4 587.5L1255.14 603.5M1283.38 587.5H1302.88M1283.38 587.5L1274.64 603.5M1302.88 587.5L1311.61 603.5M1339.85 587.5H1359.35M1339.85 587.5L1331.11 603.5M1359.35 587.5L1368.08 603.5M1396.32 587.5H1415.82M1396.32 587.5L1387.58 603.5M1415.82 587.5L1424.55 603.5M1452.79 587.5H1472.29M1452.79 587.5L1444.05 603.5M1472.29 587.5L1481.02 603.5M-100.14 603.5H-80.64M-100.14 603.5L-108.88 619.5M-80.64 603.5L-71.91 619.5M-43.67 603.5H-24.17M-43.67 603.5L-52.41 619.5M-24.17 603.5L-15.44 619.5M12.8 603.5H32.3M12.8 603.5L4.07 619.5M32.3 603.5L41.03 619.5M69.27 603.5H88.77M69.27 603.5L60.53 619.5M88.77 603.5L97.5 619.5M125.74 603.5H145.24M125.74 603.5L117 619.5M145.24 603.5L153.98 619.5M182.21 603.5H201.71M182.21 603.5L173.48 619.5M201.71 603.5L210.44 619.5M238.68 603.5H258.18M238.68 603.5L229.94 619.5M258.18 603.5L266.92 619.5M295.15 603.5H314.65M295.15 603.5L286.42 619.5M314.65 603.5L323.39 619.5M351.62 603.5H371.12M351.62 603.5L342.88 619.5M371.12 603.5L379.86 619.5M408.09 603.5H427.59M408.09 603.5L399.35 619.5M427.59 603.5L436.32 619.5M464.56 603.5H484.06M464.56 603.5L455.82 619.5M484.06 603.5L492.8 619.5M521.03 603.5H540.53M521.03 603.5L512.29 619.5M540.53 603.5L549.26 619.5M577.5 603.5H597M577.5 603.5L568.76 619.5M597 603.5L605.74 619.5M633.97 603.5H653.47M633.97 603.5L625.23 619.5M653.47 603.5L662.2 619.5M690.44 603.5H709.94M690.44 603.5L681.7 619.5M709.94 603.5L718.67 619.5M746.91 603.5H766.41M746.91 603.5L738.17 619.5M766.41 603.5L775.14 619.5M803.38 603.5H822.88M803.38 603.5L794.64 619.5M822.88 603.5L831.61 619.5M859.85 603.5H879.35M859.85 603.5L851.11 619.5M879.35 603.5L888.08 619.5M916.32 603.5H935.82M916.32 603.5L907.58 619.5M935.82 603.5L944.55 619.5M972.79 603.5H992.29M972.79 603.5L964.05 619.5M992.29 603.5L1001.02 619.5M1029.26 603.5H1048.76M1029.26 603.5L1020.52 619.5M1048.76 603.5L1057.49 619.5M1085.73 603.5H1105.23M1085.73 603.5L1077 619.5M1105.23 603.5L1113.96 619.5M1142.2 603.5H1161.7M1142.2 603.5L1133.47 619.5M1161.7 603.5L1170.43 619.5M1198.67 603.5H1218.17M1198.67 603.5L1189.93 619.5M1218.17 603.5L1226.9 619.5M1255.14 603.5H1274.64M1255.14 603.5L1246.4 619.5M1274.64 603.5L1283.37 619.5M1311.61 603.5H1331.11M1311.61 603.5L1302.88 619.5M1331.11 603.5L1339.84 619.5M1368.08 603.5H1387.58M1368.08 603.5L1359.35 619.5M1387.58 603.5L1396.31 619.5M1424.55 603.5H1444.05M1424.55 603.5L1415.82 619.5M1444.05 603.5L1452.78 619.5M1481.02 603.5H1500.52M1481.02 603.5L1472.29 619.5M1500.52 603.5L1509.25 619.5M-71.91 619.5H-52.41M-71.91 619.5L-80.64 635.5M-52.41 619.5L-43.67 635.5M-15.44 619.5H4.06M-15.44 619.5L-24.17 635.5M4.06 619.5L12.8 635.5M41.03 619.5H60.53M41.03 619.5L32.3 635.5M60.53 619.5L69.27 635.5M97.5 619.5H117M97.5 619.5L88.77 635.5M117 619.5L125.74 635.5M153.97 619.5H173.47M153.97 619.5L145.24 635.5M173.47 619.5L182.21 635.5M210.44 619.5H229.94M210.44 619.5L201.71 635.5M229.94 619.5L238.68 635.5M266.91 619.5H286.41M266.91 619.5L258.18 635.5M286.41 619.5L295.15 635.5M323.38 619.5H342.88M323.38 619.5L314.65 635.5M342.88 619.5L351.62 635.5M379.86 619.5H399.36M379.86 619.5L371.12 635.5M399.36 619.5L408.09 635.5M436.32 619.5H455.82M436.32 619.5L427.59 635.5M455.82 619.5L464.56 635.5M492.79 619.5H512.29M492.79 619.5L484.06 635.5M512.29 619.5L521.03 635.5M549.26 619.5H568.76M549.26 619.5L540.53 635.5M568.76 619.5L577.5 635.5M605.74 619.5H625.24M605.74 619.5L597 635.5M625.24 619.5L633.97 635.5M662.2 619.5H681.7M662.2 619.5L653.47 635.5M681.7 619.5L690.44 635.5M718.67 619.5H738.17M718.67 619.5L709.94 635.5M738.17 619.5L746.91 635.5M775.14 619.5H794.64M775.14 619.5L766.41 635.5M794.64 619.5L803.38 635.5M831.61 619.5H851.11M831.61 619.5L822.88 635.5M851.11 619.5L859.85 635.5M888.08 619.5H907.58M888.08 619.5L879.35 635.5M907.58 619.5L916.32 635.5M944.55 619.5H964.05M944.55 619.5L935.82 635.5M964.05 619.5L972.79 635.5M1001.02 619.5H1020.52M1001.02 619.5L992.29 635.5M1020.52 619.5L1029.26 635.5M1057.5 619.5H1077M1057.5 619.5L1048.76 635.5M1077 619.5L1085.73 635.5M1113.97 619.5H1133.47M1113.97 619.5L1105.23 635.5M1133.47 619.5L1142.2 635.5M1170.44 619.5H1189.94M1170.44 619.5L1161.7 635.5M1189.94 619.5L1198.67 635.5M1226.9 619.5H1246.4M1226.9 619.5L1218.17 635.5M1246.4 619.5L1255.14 635.5M1283.38 619.5H1302.88M1283.38 619.5L1274.64 635.5M1302.88 619.5L1311.61 635.5M1339.85 619.5H1359.35M1339.85 619.5L1331.11 635.5M1359.35 619.5L1368.08 635.5M1396.32 619.5H1415.82M1396.32 619.5L1387.58 635.5M1415.82 619.5L1424.55 635.5M1452.79 619.5H1472.29M1452.79 619.5L1444.05 635.5M1472.29 619.5L1481.02 635.5M-100.14 635.5H-80.64M-100.14 635.5L-108.88 651.5M-80.64 635.5L-71.91 651.5M-43.67 635.5H-24.17M-43.67 635.5L-52.41 651.5M-24.17 635.5L-15.44 651.5M12.8 635.5H32.3M12.8 635.5L4.07 651.5M32.3 635.5L41.03 651.5M69.27 635.5H88.77M69.27 635.5L60.53 651.5M88.77 635.5L97.5 651.5M125.74 635.5H145.24M125.74 635.5L117 651.5M145.24 635.5L153.98 651.5M182.21 635.5H201.71M182.21 635.5L173.48 651.5M201.71 635.5L210.44 651.5M238.68 635.5H258.18M238.68 635.5L229.94 651.5M258.18 635.5L266.92 651.5M295.15 635.5H314.65M295.15 635.5L286.42 651.5M314.65 635.5L323.39 651.5M351.62 635.5H371.12M351.62 635.5L342.88 651.5M371.12 635.5L379.86 651.5M408.09 635.5H427.59M408.09 635.5L399.35 651.5M427.59 635.5L436.32 651.5M464.56 635.5H484.06M464.56 635.5L455.82 651.5M484.06 635.5L492.8 651.5M521.03 635.5H540.53M521.03 635.5L512.29 651.5M540.53 635.5L549.26 651.5M577.5 635.5H597M577.5 635.5L568.76 651.5M597 635.5L605.74 651.5M633.97 635.5H653.47M633.97 635.5L625.23 651.5M653.47 635.5L662.2 651.5M690.44 635.5H709.94M690.44 635.5L681.7 651.5M709.94 635.5L718.67 651.5M746.91 635.5H766.41M746.91 635.5L738.17 651.5M766.41 635.5L775.14 651.5M803.38 635.5H822.88M803.38 635.5L794.64 651.5M822.88 635.5L831.61 651.5M859.85 635.5H879.35M859.85 635.5L851.11 651.5M879.35 635.5L888.08 651.5M916.32 635.5H935.82M916.32 635.5L907.58 651.5M935.82 635.5L944.55 651.5M972.79 635.5H992.29M972.79 635.5L964.05 651.5M992.29 635.5L1001.02 651.5M1029.26 635.5H1048.76M1029.26 635.5L1020.52 651.5M1048.76 635.5L1057.49 651.5M1085.73 635.5H1105.23M1085.73 635.5L1077 651.5M1105.23 635.5L1113.96 651.5M1142.2 635.5H1161.7M1142.2 635.5L1133.47 651.5M1161.7 635.5L1170.43 651.5M1198.67 635.5H1218.17M1198.67 635.5L1189.93 651.5M1218.17 635.5L1226.9 651.5M1255.14 635.5H1274.64M1255.14 635.5L1246.4 651.5M1274.64 635.5L1283.37 651.5M1311.61 635.5H1331.11M1311.61 635.5L1302.88 651.5M1331.11 635.5L1339.84 651.5M1368.08 635.5H1387.58M1368.08 635.5L1359.35 651.5M1387.58 635.5L1396.31 651.5M1424.55 635.5H1444.05M1424.55 635.5L1415.82 651.5M1444.05 635.5L1452.78 651.5M1481.02 635.5H1500.52M1481.02 635.5L1472.29 651.5M1500.52 635.5L1509.25 651.5M-71.91 651.5H-52.41M-71.91 651.5L-80.64 668M-52.41 651.5L-43.67 668M-15.44 651.5H4.06M-15.44 651.5L-24.17 668M4.06 651.5L12.8 668M41.03 651.5H60.53M41.03 651.5L32.3 668M60.53 651.5L69.27 668M97.5 651.5H117M97.5 651.5L88.77 668M117 651.5L125.74 668M153.97 651.5H173.47M153.97 651.5L145.24 668M173.47 651.5L182.21 668M210.44 651.5H229.94M210.44 651.5L201.71 668M229.94 651.5L238.68 668M266.91 651.5H286.41M266.91 651.5L258.18 668M286.41 651.5L295.15 668M323.38 651.5H342.88M323.38 651.5L314.65 668M342.88 651.5L351.62 668M379.86 651.5H399.36M379.86 651.5L371.12 668M399.36 651.5L408.09 668M436.32 651.5H455.82M436.32 651.5L427.59 668M455.82 651.5L464.56 668M492.79 651.5H512.29M492.79 651.5L484.06 668M512.29 651.5L521.03 668M549.26 651.5H568.76M549.26 651.5L540.53 668M568.76 651.5L577.5 668M605.74 651.5H625.24M605.74 651.5L597 668M625.24 651.5L633.97 668M662.2 651.5H681.7M662.2 651.5L653.47 668M681.7 651.5L690.44 668M718.67 651.5H738.17M718.67 651.5L709.94 668M738.17 651.5L746.91 668M775.14 651.5H794.64M775.14 651.5L766.41 668M794.64 651.5L803.38 668M831.61 651.5H851.11M831.61 651.5L822.88 668M851.11 651.5L859.85 668M888.08 651.5H907.58M888.08 651.5L879.35 668M907.58 651.5L916.32 668M944.55 651.5H964.05M944.55 651.5L935.82 668M964.05 651.5L972.79 668M1001.02 651.5H1020.52M1001.02 651.5L992.29 668M1020.52 651.5L1029.26 668M1057.5 651.5H1077M1057.5 651.5L1048.76 668M1077 651.5L1085.73 668M1113.97 651.5H1133.47M1113.97 651.5L1105.23 668M1133.47 651.5L1142.2 668M1170.44 651.5H1189.94M1170.44 651.5L1161.7 668M1189.94 651.5L1198.67 668M1226.9 651.5H1246.4M1226.9 651.5L1218.17 668M1246.4 651.5L1255.14 668M1283.38 651.5H1302.88M1283.38 651.5L1274.64 668M1302.88 651.5L1311.61 668M1339.85 651.5H1359.35M1339.85 651.5L1331.11 668M1359.35 651.5L1368.08 668M1396.32 651.5H1415.82M1396.32 651.5L1387.58 668M1415.82 651.5L1424.55 668M1452.79 651.5H1472.29M1452.79 651.5L1444.05 668M1472.29 651.5L1481.02 668M-100.14 668L-108.88 684.5M-80.64 668L-71.91 684.5M-43.67 668L-52.41 684.5M-24.17 668L-15.44 684.5M12.8 668L4.07 684.5M32.3 668L41.03 684.5M69.27 668L60.53 684.5M88.77 668L97.5 684.5M125.74 668L117 684.5M145.24 668L153.98 684.5M182.21 668L173.48 684.5M201.71 668L210.44 684.5M238.68 668L229.94 684.5M258.18 668L266.92 684.5M295.15 668L286.42 684.5M314.65 668L323.39 684.5M351.62 668L342.88 684.5M371.12 668L379.86 684.5M408.09 668L399.35 684.5M427.59 668L436.32 684.5M464.56 668L455.82 684.5M484.06 668L492.8 684.5M521.03 668L512.29 684.5M540.53 668L549.26 684.5M577.5 668L568.76 684.5M597 668L605.74 684.5M633.97 668L625.23 684.5M653.47 668L662.2 684.5M690.44 668L681.7 684.5M709.94 668L718.67 684.5M746.91 668L738.17 684.5M766.41 668L775.14 684.5M803.38 668L794.64 684.5M822.88 668L831.61 684.5M859.85 668L851.11 684.5M879.35 668L888.08 684.5M916.32 668L907.58 684.5M935.82 668L944.55 684.5M972.79 668L964.05 684.5M992.29 668L1001.02 684.5M1029.26 668L1020.52 684.5M1048.76 668L1057.49 684.5M1085.73 668L1077 684.5M1105.23 668L1113.96 684.5M1142.2 668L1133.47 684.5M1161.7 668L1170.43 684.5M1198.67 668L1189.93 684.5M1218.17 668L1226.9 684.5M1255.14 668L1246.4 684.5M1274.64 668L1283.37 684.5M1311.61 668L1302.88 684.5M1331.11 668L1339.84 684.5M1368.08 668L1359.35 684.5M1387.58 668L1396.31 684.5M1424.55 668L1415.82 684.5M1444.05 668L1452.78 684.5M1481.02 668L1472.29 684.5M1500.52 668L1509.25 684.5M-71.91 684.5H-52.41M-71.91 684.5L-80.64 700.5M-52.41 684.5L-43.67 700.5M-15.44 684.5H4.06M-15.44 684.5L-24.17 700.5M4.06 684.5L12.8 700.5M41.03 684.5H60.53M41.03 684.5L32.3 700.5M60.53 684.5L69.27 700.5M97.5 684.5H117M97.5 684.5L88.77 700.5M117 684.5L125.74 700.5M153.97 684.5H173.47M153.97 684.5L145.24 700.5M173.47 684.5L182.21 700.5M210.44 684.5H229.94M210.44 684.5L201.71 700.5M229.94 684.5L238.68 700.5M266.91 684.5H286.41M266.91 684.5L258.18 700.5M286.41 684.5L295.15 700.5M323.38 684.5H342.88M323.38 684.5L314.65 700.5M342.88 684.5L351.62 700.5M379.86 684.5H399.36M379.86 684.5L371.12 700.5M399.36 684.5L408.09 700.5M436.32 684.5H455.82M436.32 684.5L427.59 700.5M455.82 684.5L464.56 700.5M492.79 684.5H512.29M492.79 684.5L484.06 700.5M512.29 684.5L521.03 700.5M549.26 684.5H568.76M549.26 684.5L540.53 700.5M568.76 684.5L577.5 700.5M605.74 684.5H625.24M605.74 684.5L597 700.5M625.24 684.5L633.97 700.5M662.2 684.5H681.7M662.2 684.5L653.47 700.5M681.7 684.5L690.44 700.5M718.67 684.5H738.17M718.67 684.5L709.94 700.5M738.17 684.5L746.91 700.5M775.14 684.5H794.64M775.14 684.5L766.41 700.5M794.64 684.5L803.38 700.5M831.61 684.5H851.11M831.61 684.5L822.88 700.5M851.11 684.5L859.85 700.5M888.08 684.5H907.58M888.08 684.5L879.35 700.5M907.58 684.5L916.32 700.5M944.55 684.5H964.05M944.55 684.5L935.82 700.5M964.05 684.5L972.79 700.5M1001.02 684.5H1020.52M1001.02 684.5L992.29 700.5M1020.52 684.5L1029.26 700.5M1057.5 684.5H1077M1057.5 684.5L1048.76 700.5M1077 684.5L1085.73 700.5M1113.97 684.5H1133.47M1113.97 684.5L1105.23 700.5M1133.47 684.5L1142.2 700.5M1170.44 684.5H1189.94M1170.44 684.5L1161.7 700.5M1189.94 684.5L1198.67 700.5M1226.9 684.5H1246.4M1226.9 684.5L1218.17 700.5M1246.4 684.5L1255.14 700.5M1283.38 684.5H1302.88M1283.38 684.5L1274.64 700.5M1302.88 684.5L1311.61 700.5M1339.85 684.5H1359.35M1339.85 684.5L1331.11 700.5M1359.35 684.5L1368.08 700.5M1396.32 684.5H1415.82M1396.32 684.5L1387.58 700.5M1415.82 684.5L1424.55 700.5M1452.79 684.5H1472.29M1452.79 684.5L1444.05 700.5M1472.29 684.5L1481.02 700.5M-100.14 700.5H-80.64M-100.14 700.5L-108.88 716.5M-80.64 700.5L-71.91 716.5M-43.67 700.5H-24.17M-43.67 700.5L-52.41 716.5M-24.17 700.5L-15.44 716.5M12.8 700.5H32.3M12.8 700.5L4.07 716.5M32.3 700.5L41.03 716.5M69.27 700.5H88.77M69.27 700.5L60.53 716.5M88.77 700.5L97.5 716.5M125.74 700.5H145.24M125.74 700.5L117 716.5M145.24 700.5L153.98 716.5M182.21 700.5H201.71M182.21 700.5L173.48 716.5M201.71 700.5L210.44 716.5M238.68 700.5H258.18M238.68 700.5L229.94 716.5M258.18 700.5L266.92 716.5M295.15 700.5H314.65M295.15 700.5L286.42 716.5M314.65 700.5L323.39 716.5M351.62 700.5H371.12M351.62 700.5L342.88 716.5M371.12 700.5L379.86 716.5M408.09 700.5H427.59M408.09 700.5L399.35 716.5M427.59 700.5L436.32 716.5M464.56 700.5H484.06M464.56 700.5L455.82 716.5M484.06 700.5L492.8 716.5M521.03 700.5H540.53M521.03 700.5L512.29 716.5M540.53 700.5L549.26 716.5M577.5 700.5H597M577.5 700.5L568.76 716.5M597 700.5L605.74 716.5M633.97 700.5H653.47M633.97 700.5L625.23 716.5M653.47 700.5L662.2 716.5M690.44 700.5H709.94M690.44 700.5L681.7 716.5M709.94 700.5L718.67 716.5M746.91 700.5H766.41M746.91 700.5L738.17 716.5M766.41 700.5L775.14 716.5M803.38 700.5H822.88M803.38 700.5L794.64 716.5M822.88 700.5L831.61 716.5M859.85 700.5H879.35M859.85 700.5L851.11 716.5M879.35 700.5L888.08 716.5M916.32 700.5H935.82M916.32 700.5L907.58 716.5M935.82 700.5L944.55 716.5M972.79 700.5H992.29M972.79 700.5L964.05 716.5M992.29 700.5L1001.02 716.5M1029.26 700.5H1048.76M1029.26 700.5L1020.52 716.5M1048.76 700.5L1057.49 716.5M1085.73 700.5H1105.23M1085.73 700.5L1077 716.5M1105.23 700.5L1113.96 716.5M1142.2 700.5H1161.7M1142.2 700.5L1133.47 716.5M1161.7 700.5L1170.43 716.5M1198.67 700.5H1218.17M1198.67 700.5L1189.93 716.5M1218.17 700.5L1226.9 716.5M1255.14 700.5H1274.64M1255.14 700.5L1246.4 716.5M1274.64 700.5L1283.37 716.5M1311.61 700.5H1331.11M1311.61 700.5L1302.88 716.5M1331.11 700.5L1339.84 716.5M1368.08 700.5H1387.58M1368.08 700.5L1359.35 716.5M1387.58 700.5L1396.31 716.5M1424.55 700.5H1444.05M1424.55 700.5L1415.82 716.5M1444.05 700.5L1452.78 716.5M1481.02 700.5H1500.52M1481.02 700.5L1472.29 716.5M1500.52 700.5L1509.25 716.5M-71.91 716.5H-52.41M-71.91 716.5L-80.64 732.5M-52.41 716.5L-43.67 732.5M-15.44 716.5H4.06M-15.44 716.5L-24.17 732.5M4.06 716.5L12.8 732.5M41.03 716.5H60.53M41.03 716.5L32.3 732.5M60.53 716.5L69.27 732.5M97.5 716.5H117M97.5 716.5L88.77 732.5M117 716.5L125.74 732.5M153.97 716.5H173.47M153.97 716.5L145.24 732.5M173.47 716.5L182.21 732.5M210.44 716.5H229.94M210.44 716.5L201.71 732.5M229.94 716.5L238.68 732.5M266.91 716.5H286.41M266.91 716.5L258.18 732.5M286.41 716.5L295.15 732.5M323.38 716.5H342.88M323.38 716.5L314.65 732.5M342.88 716.5L351.62 732.5M379.86 716.5H399.36M379.86 716.5L371.12 732.5M399.36 716.5L408.09 732.5M436.32 716.5H455.82M436.32 716.5L427.59 732.5M455.82 716.5L464.56 732.5M492.79 716.5H512.29M492.79 716.5L484.06 732.5M512.29 716.5L521.03 732.5M549.26 716.5H568.76M549.26 716.5L540.53 732.5M568.76 716.5L577.5 732.5M605.74 716.5H625.24M605.74 716.5L597 732.5M625.24 716.5L633.97 732.5M662.2 716.5H681.7M662.2 716.5L653.47 732.5M681.7 716.5L690.44 732.5M718.67 716.5H738.17M718.67 716.5L709.94 732.5M738.17 716.5L746.91 732.5M775.14 716.5H794.64M775.14 716.5L766.41 732.5M794.64 716.5L803.38 732.5M831.61 716.5H851.11M831.61 716.5L822.88 732.5M851.11 716.5L859.85 732.5M888.08 716.5H907.58M888.08 716.5L879.35 732.5M907.58 716.5L916.32 732.5M944.55 716.5H964.05M944.55 716.5L935.82 732.5M964.05 716.5L972.79 732.5M1001.02 716.5H1020.52M1001.02 716.5L992.29 732.5M1020.52 716.5L1029.26 732.5M1057.5 716.5H1077M1057.5 716.5L1048.76 732.5M1077 716.5L1085.73 732.5M1113.97 716.5H1133.47M1113.97 716.5L1105.23 732.5M1133.47 716.5L1142.2 732.5M1170.44 716.5H1189.94M1170.44 716.5L1161.7 732.5M1189.94 716.5L1198.67 732.5M1226.9 716.5H1246.4M1226.9 716.5L1218.17 732.5M1246.4 716.5L1255.14 732.5M1283.38 716.5H1302.88M1283.38 716.5L1274.64 732.5M1302.88 716.5L1311.61 732.5M1339.85 716.5H1359.35M1339.85 716.5L1331.11 732.5M1359.35 716.5L1368.08 732.5M1396.32 716.5H1415.82M1396.32 716.5L1387.58 732.5M1415.82 716.5L1424.55 732.5M1452.79 716.5H1472.29M1452.79 716.5L1444.05 732.5M1472.29 716.5L1481.02 732.5"/><g shape-rendering="crispEdges"><rect x="2" y="171" width="567" height="131" fill="#000"/><rect x="2" y="171" width="3" height="548" fill="#000"/><rect x="566" y="171" width="3" height="256" fill="#000"/><rect x="2" y="425" width="1479" height="2" fill="#000"/><rect x="2" y="591" width="1479" height="2" fill="#000"/><rect x="2" y="716" width="1479" height="3" fill="#000"/><rect x="1479" y="299" width="2" height="420" fill="#000"/><rect x="1085" y="299" width="396" height="3" fill="#000"/><rect x="1085" y="299" width="2" height="128" fill="#000"/><rect x="172" y="351" width="17" height="336" fill="#fff"/><rect x="170" y="349" width="21" height="3" fill="#000"/><rect x="170" y="349" width="3" height="341" fill="#000"/><rect x="189" y="349" width="2" height="341" fill="#000"/><rect x="170" y="687" width="21" height="3" fill="#000"/></g><path fill="none" stroke="#000" stroke-width="1.8" stroke-linecap="butt" stroke-linejoin="round" d="M568.8 213.5C570.35 213.8 574.45 214.58 578.1 215.3C581.75 216.02 585.6 217.38 590.7 217.8C595.8 218.22 604.97 218.03 608.7 217.8C612.43 217.57 611.55 217.53 613.1 216.4C614.65 215.27 617.15 213.63 618 211C618.85 208.37 618.23 204.33 618.2 200.6C618.17 196.87 618.1 191.7 617.8 188.6C617.5 185.5 616.77 185.47 616.4 182C616.03 178.53 615.7 171.72 615.6 167.8C615.5 163.88 615.3 160.78 615.8 158.5C616.3 156.22 617.23 155.73 618.6 154.1C619.97 152.47 621.22 150.38 624 148.7C626.78 147.02 631.8 145.1 635.3 144C638.8 142.9 640.95 142.42 645 142.1C649.05 141.78 657.17 142.1 659.6 142.1"/><path fill="none" stroke="#000" stroke-width="1.8" stroke-linecap="butt" stroke-linejoin="round" d="M568.6 343.7C569.82 344 573.47 344.82 575.9 345.5C578.33 346.18 578.95 347.22 583.2 347.8C587.45 348.38 595.48 349 601.4 349C607.32 349 614.45 349.13 618.7 347.8C622.95 346.47 625.08 343.8 626.9 341C628.72 338.2 629.07 335.1 629.6 331C630.13 326.9 629.57 320.95 630.1 316.4C630.63 311.85 631.82 306.82 632.8 303.7C633.78 300.58 634.42 299.83 636 297.7C637.58 295.57 639.57 292.87 642.3 290.9C645.03 288.93 650.72 286.73 652.4 285.9"/><path fill="none" stroke="#000" stroke-width="1.8" stroke-linecap="butt" stroke-linejoin="round" d="M897.8 315.5C898.65 316.77 901.43 320.13 902.9 323.1C904.37 326.07 905.93 329.42 906.6 333.3C907.27 337.18 907.63 342.77 906.9 346.4C906.17 350.03 904.2 352.2 902.2 355.1C900.2 358 898.05 360.88 894.9 363.8C891.75 366.72 886.93 369.2 883.3 372.6C879.67 376 875.05 381.05 873.1 384.2C871.15 387.35 871.6 388.58 871.6 391.5C871.6 394.42 871.63 398.07 873.1 401.7C874.57 405.33 877.98 409.43 880.4 413.3C882.82 417.17 886.4 422.97 887.6 424.9"/><path fill="none" stroke="#000" stroke-width="1.8" stroke-linecap="butt" stroke-linejoin="round" d="M1189.9 207.4C1189.7 208.93 1189.03 213.58 1188.7 216.6C1188.37 219.62 1187.97 222.63 1187.9 225.5C1187.83 228.37 1187.48 231.35 1188.3 233.8C1189.12 236.25 1191 238.5 1192.8 240.2C1194.6 241.9 1195.7 243.1 1199.1 244C1202.5 244.9 1208.3 244.97 1213.2 245.6C1218.1 246.23 1224.9 246.9 1228.5 247.8C1232.1 248.7 1232.73 249.4 1234.8 251C1236.87 252.6 1239.77 254.22 1240.9 257.4C1242.03 260.58 1241.55 265.63 1241.6 270.1C1241.65 274.57 1241.58 279.38 1241.2 284.2C1240.82 289.02 1239.62 296.53 1239.3 299"/><path fill="none" stroke="#000" stroke-width="1.8" stroke-linecap="butt" stroke-linejoin="round" d="M868.5 689.9C869.38 690.32 872.18 691.13 873.8 692.4C875.42 693.67 877.05 695.2 878.2 697.5C879.35 699.8 880.22 702.8 880.7 706.2C881.18 709.6 881.27 713.03 881.1 717.9C880.93 722.77 880.35 729.57 879.7 735.4C879.05 741.23 877.82 747.55 877.2 752.9C876.58 758.25 875.7 762.88 876 767.5C876.3 772.12 877.3 777.33 879 780.6C880.7 783.87 882.45 785.52 886.2 787.1C889.95 788.68 898.95 789.6 901.5 790.1"/><path fill="none" stroke="#000" stroke-width="1.8" stroke-linecap="butt" stroke-linejoin="round" d="M185.6 622.8C187.45 622.4 193.3 620.65 196.7 620.4C200.1 620.15 203.05 620.22 206 621.3C208.95 622.38 211.92 624.42 214.4 626.9C216.88 629.38 218.73 632.48 220.9 636.2C223.07 639.92 225.55 644.57 227.4 649.2C229.25 653.83 230.62 658.43 232 664C233.38 669.57 234.45 676.4 235.7 682.6C236.95 688.8 238.25 695.32 239.5 701.2C240.75 707.08 241.82 712.63 243.2 717.9C244.58 723.17 245.95 728.15 247.8 732.8C249.65 737.45 251.35 741.93 254.3 745.8C257.25 749.67 262.08 753.83 265.5 756C268.92 758.17 271.72 758.27 274.8 758.8C277.88 759.33 282.47 759.13 284 759.2"/><path fill="none" stroke="#000" stroke-width="2.1" stroke-linecap="butt" stroke-linejoin="round" d="M1098.9 65.2C1098.93 67.67 1099.05 75.15 1099.1 80C1099.15 84.85 1099.5 90.93 1099.2 94.3C1098.9 97.67 1098.33 98.37 1097.3 100.2C1096.27 102.03 1096.45 104.4 1093 105.3C1089.55 106.2 1080.73 105.73 1076.6 105.6C1072.47 105.47 1071.23 104.83 1068.2 104.5C1065.17 104.17 1061.35 102.92 1058.4 103.6C1055.45 104.28 1052.58 106.25 1050.5 108.6C1048.42 110.95 1047.12 114.2 1045.9 117.7C1044.68 121.2 1043.73 126.22 1043.2 129.6C1042.67 132.98 1042.78 136.6 1042.7 138"/><path fill="#000" d="M1035.3 136.8L1048 137.2L1047.6 142L1040 163L1038.2 163Z"/><path transform="translate(1062 13.2)" fill="none" stroke="#000" stroke-width="3.1" stroke-linejoin="miter" d="M8.5 0V35"/><path transform="translate(1062 13.2)" fill="none" stroke="#000" stroke-width="2.2" stroke-linejoin="miter" d="M8.6 1.3L5.6 5.1Q4.6 6.5 3 6.5H0.6"/><path transform="translate(1086 12.8)" fill="none" stroke="#000" stroke-width="2.8" stroke-linejoin="miter" d="M11 1.4C16.8 1.4 20.6 8.5 20.6 17.5C20.6 26.5 16.8 33.6 11 33.6C5.2 33.6 1.4 26.5 1.4 17.5C1.4 8.5 5.2 1.4 11 1.4Z"/><path transform="translate(1113.2 12.8)" fill="none" stroke="#000" stroke-width="2.8" stroke-linejoin="miter" d="M11 1.4C16.8 1.4 20.6 8.5 20.6 17.5C20.6 26.5 16.8 33.6 11 33.6C5.2 33.6 1.4 26.5 1.4 17.5C1.4 8.5 5.2 1.4 11 1.4Z"/><path transform="translate(672.7 114)" fill="none" stroke="#000" stroke-width="3.1" stroke-linejoin="miter" d="M8.5 0V35"/><path transform="translate(672.7 114)" fill="none" stroke="#000" stroke-width="2.2" stroke-linejoin="miter" d="M8.6 1.3L5.6 5.1Q4.6 6.5 3 6.5H0.6"/><path transform="translate(696 114)" fill="none" stroke="#000" stroke-width="3" stroke-linejoin="miter" d="M16.5 0V35"/><path transform="translate(696 114)" fill="none" stroke="#000" stroke-width="3" stroke-linejoin="miter" d="M16.8 1L1.5 24.3H23.7"/><path transform="translate(665 253.3)" fill="none" stroke="#000" stroke-width="3.1" stroke-linejoin="miter" d="M8.5 0V35"/><path transform="translate(665 253.3)" fill="none" stroke="#000" stroke-width="2.2" stroke-linejoin="miter" d="M8.6 1.3L5.6 5.1Q4.6 6.5 3 6.5H0.6"/><path transform="translate(692 253.3)" fill="none" stroke="#000" stroke-width="3.1" stroke-linejoin="miter" d="M8.5 0V35"/><path transform="translate(692 253.3)" fill="none" stroke="#000" stroke-width="2.2" stroke-linejoin="miter" d="M8.6 1.3L5.6 5.1Q4.6 6.5 3 6.5H0.6"/><path transform="translate(862 262)" fill="none" stroke="#000" stroke-width="3.1" stroke-linejoin="miter" d="M8.5 0V35"/><path transform="translate(862 262)" fill="none" stroke="#000" stroke-width="2.2" stroke-linejoin="miter" d="M8.6 1.3L5.6 5.1Q4.6 6.5 3 6.5H0.6"/><path transform="translate(886 261.4)" fill="none" stroke="#000" stroke-width="2.8" stroke-linejoin="miter" d="M11 1.4C16.8 1.4 20.6 8.5 20.6 17.5C20.6 26.5 16.8 33.6 11 33.6C5.2 33.6 1.4 26.5 1.4 17.5C1.4 8.5 5.2 1.4 11 1.4Z"/><path transform="translate(1182 156)" fill="none" stroke="#000" stroke-width="3.1" stroke-linejoin="miter" d="M8.5 0V35"/><path transform="translate(1182 156)" fill="none" stroke="#000" stroke-width="2.2" stroke-linejoin="miter" d="M8.6 1.3L5.6 5.1Q4.6 6.5 3 6.5H0.6"/><path transform="translate(1206.1 155.8)" fill="none" stroke="#000" stroke-width="3" stroke-linejoin="miter" d="M2.6 7.5C2.6 3.8 6.2 1.5 10.8 1.5C15.5 1.5 18.5 4.5 18.5 8.8C18.5 13.2 15 16.3 8.3 16.3M8.3 16.3C16.5 16.3 20.6 20 20.6 25C20.6 30.2 16.5 33.5 11 33.5C5.5 33.5 1.8 30 1.8 23.2"/><path transform="translate(916 780.1)" fill="none" stroke="#000" stroke-width="3.1" stroke-linejoin="miter" d="M8.5 0V35"/><path transform="translate(916 780.1)" fill="none" stroke="#000" stroke-width="2.2" stroke-linejoin="miter" d="M8.6 1.3L5.6 5.1Q4.6 6.5 3 6.5H0.6"/><path transform="translate(940.3 780.1)" fill="none" stroke="#000" stroke-width="2.9" stroke-linejoin="miter" d="M2.3 12V8Q2.3 1.5 8 1.5H14Q19.2 1.5 19.2 7V11.5Q19.2 14.8 15 17.8L5.5 24.8Q1.8 27.5 1.8 30.5V32.3H21"/><path transform="translate(294.5 741)" fill="none" stroke="#000" stroke-width="3.1" stroke-linejoin="miter" d="M8.5 0V35"/><path transform="translate(294.5 741)" fill="none" stroke="#000" stroke-width="2.2" stroke-linejoin="miter" d="M8.6 1.3L5.6 5.1Q4.6 6.5 3 6.5H0.6"/><path transform="translate(317.7 742)" fill="none" stroke="#000" stroke-width="2.2" stroke-linejoin="miter" d="M20.3 1.1H5.2"/><path transform="translate(317.7 742)" fill="none" stroke="#000" stroke-width="2.8" stroke-linejoin="miter" d="M5.3 0.5L3.9 16C5.8 14.2 8.3 13.3 11.3 13.3C16.5 13.3 19.3 17.5 19.3 23.2C19.3 29.5 15.5 32.8 10.8 32.8C6.3 32.8 3.5 30.3 1.3 26.8"/></svg></body></html>
